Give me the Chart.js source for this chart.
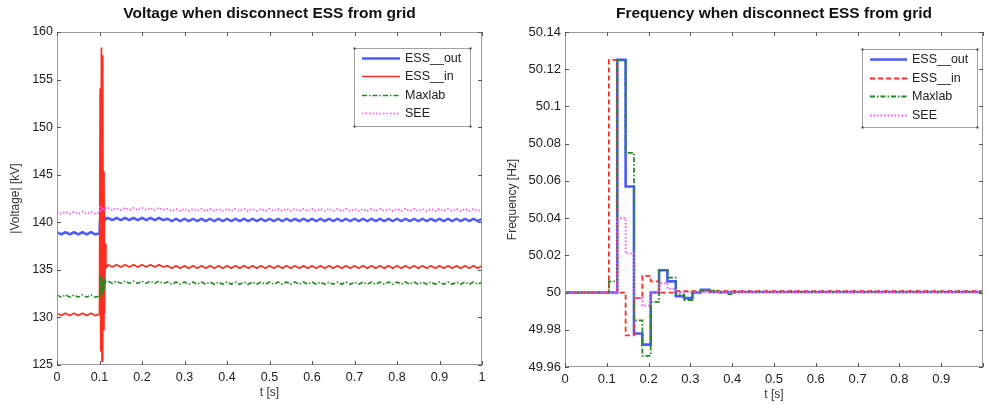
<!DOCTYPE html>
<html>
<head>
<meta charset="utf-8">
<title>Disconnect ESS from grid</title>
<script src="https://cdn.jsdelivr.net/npm/chart.js@4.4.1/dist/chart.umd.min.js"></script>
<style>
  html, body { margin: 0; padding: 0; background: #fff; }
  #wrap { position: relative; width: 988px; height: 405px; overflow: hidden; }
  canvas { position: absolute; top: 0; }
  #voltChart { left: 0; }
  #freqChart { left: 494px; }
</style>
</head>
<body>
<div id="wrap">
  <canvas id="voltChart" width="494" height="405"></canvas>
  <canvas id="freqChart" width="494" height="405"></canvas>
</div>
<script>
'use strict';

// ---- Voltage plot: sample times [s] ----
const voltPreT = [0, 0.01, 0.02, 0.03, 0.04, 0.05, 0.06, 0.07, 0.08, 0.09];
const voltTransT = [0.1, 0.1015, 0.103, 0.1045, 0.106, 0.1075, 0.109, 0.1105, 0.112, 0.1135, 0.115];
const voltPostT = [
  0.12, 0.13, 0.14, 0.15, 0.16, 0.17, 0.18, 0.19, 0.2,
  0.21, 0.22, 0.23, 0.24, 0.25, 0.26, 0.27, 0.28, 0.29, 0.3,
  0.31, 0.32, 0.33, 0.34, 0.35, 0.36, 0.37, 0.38, 0.39, 0.4,
  0.41, 0.42, 0.43, 0.44, 0.45, 0.46, 0.47, 0.48, 0.49, 0.5,
  0.51, 0.52, 0.53, 0.54, 0.55, 0.56, 0.57, 0.58, 0.59, 0.6,
  0.61, 0.62, 0.63, 0.64, 0.65, 0.66, 0.67, 0.68, 0.69, 0.7,
  0.71, 0.72, 0.73, 0.74, 0.75, 0.76, 0.77, 0.78, 0.79, 0.8,
  0.81, 0.82, 0.83, 0.84, 0.85, 0.86, 0.87, 0.88, 0.89, 0.9,
  0.91, 0.92, 0.93, 0.94, 0.95, 0.96, 0.97, 0.98, 0.99, 1
];

// ---- Voltage plot: |V| [kV] per series ----
const essOutVPre = [138.96, 138.72, 138.96, 138.72, 138.96, 138.72, 138.96, 138.72, 138.96, 138.72];
const essOutVTrans = [138.84, 140.5, 140.3, 140.52, 140.28, 140.5, 140.3, 140.48, 140.3, 140.45, 140.3];
const essOutVPost = [
  140.47, 140.23, 140.47, 140.23, 140.47, 140.23, 140.47, 140.23, 140.47,
  140.23, 140.47, 140.23, 140.47, 140.23, 140.37, 140.13, 140.37, 140.13, 140.37,
  140.13, 140.37, 140.13, 140.37, 140.13, 140.37, 140.13, 140.37, 140.13, 140.37,
  140.13, 140.37, 140.13, 140.37, 140.13, 140.37, 140.13, 140.37, 140.13, 140.37,
  140.13, 140.37, 140.13, 140.37, 140.13, 140.37, 140.13, 140.37, 140.13, 140.37,
  140.13, 140.37, 140.13, 140.37, 140.13, 140.37, 140.13, 140.37, 140.13, 140.37,
  140.13, 140.37, 140.13, 140.37, 140.13, 140.37, 140.13, 140.37, 140.13, 140.37,
  140.13, 140.37, 140.13, 140.37, 140.13, 140.37, 140.13, 140.37, 140.13, 140.37,
  140.13, 140.37, 140.13, 140.37, 140.13, 140.37, 140.13, 140.37, 140.13, 140.37
];

const essInVPre = [130.45, 130.21, 130.45, 130.21, 130.45, 130.21, 130.45, 130.21, 130.45, 130.21];
const essInVTrans = [130.33, 154.0, 126.5, 158.3, 125.4, 157.5, 128.7, 145.3, 130.5, 137.7, 135.2];
const essInVPost = [
  135.54, 135.3, 135.54, 135.3, 135.54, 135.3, 135.54, 135.3, 135.54,
  135.3, 135.54, 135.3, 135.54, 135.3, 135.42, 135.18, 135.42, 135.18, 135.42,
  135.18, 135.42, 135.18, 135.42, 135.18, 135.42, 135.18, 135.42, 135.18, 135.42,
  135.18, 135.42, 135.18, 135.42, 135.18, 135.42, 135.18, 135.42, 135.18, 135.42,
  135.18, 135.42, 135.18, 135.42, 135.18, 135.42, 135.18, 135.42, 135.18, 135.42,
  135.18, 135.42, 135.18, 135.42, 135.18, 135.42, 135.18, 135.42, 135.18, 135.42,
  135.18, 135.42, 135.18, 135.42, 135.18, 135.42, 135.18, 135.42, 135.18, 135.42,
  135.18, 135.42, 135.18, 135.42, 135.18, 135.42, 135.18, 135.42, 135.18, 135.42,
  135.18, 135.42, 135.18, 135.42, 135.18, 135.42, 135.18, 135.42, 135.18, 135.42
];

const maxlabVPre = [132.37, 132.13, 132.37, 132.13, 132.37, 132.13, 132.37, 132.13, 132.37, 132.13];
const maxlabVTrans = [132.25, 133.2, 134.4, 131.9, 134.1, 132.6, 133.9, 133.0, 134.0, 133.5, 133.8];
const maxlabVPost = [
  133.82, 133.58, 133.82, 133.58, 133.82, 133.58, 133.82, 133.58, 133.82,
  133.58, 133.82, 133.58, 133.82, 133.58, 133.72, 133.48, 133.72, 133.48, 133.72,
  133.48, 133.72, 133.48, 133.72, 133.48, 133.72, 133.48, 133.72, 133.48, 133.72,
  133.48, 133.72, 133.48, 133.72, 133.48, 133.72, 133.48, 133.72, 133.48, 133.72,
  133.48, 133.72, 133.48, 133.72, 133.48, 133.72, 133.48, 133.72, 133.48, 133.72,
  133.48, 133.72, 133.48, 133.72, 133.48, 133.72, 133.48, 133.72, 133.48, 133.72,
  133.48, 133.72, 133.48, 133.72, 133.48, 133.72, 133.48, 133.72, 133.48, 133.72,
  133.48, 133.72, 133.48, 133.72, 133.48, 133.72, 133.48, 133.72, 133.48, 133.72,
  133.48, 133.72, 133.48, 133.72, 133.48, 133.72, 133.48, 133.72, 133.48, 133.72
];

const seeVPre = [141.12, 140.88, 141.12, 140.88, 141.12, 140.88, 141.12, 140.88, 141.12, 140.88];
const seeVTrans = [141.0, 141.75, 141.2, 141.6, 141.3, 141.55, 141.35, 141.5, 141.3, 141.5, 141.4];
const seeVPost = [
  141.52, 141.28, 141.52, 141.28, 141.52, 141.28, 141.52, 141.28, 141.52,
  141.28, 141.52, 141.28, 141.52, 141.28, 141.42, 141.18, 141.42, 141.18, 141.42,
  141.18, 141.42, 141.18, 141.42, 141.18, 141.42, 141.18, 141.42, 141.18, 141.42,
  141.18, 141.42, 141.18, 141.42, 141.18, 141.42, 141.18, 141.42, 141.18, 141.42,
  141.18, 141.42, 141.18, 141.42, 141.18, 141.42, 141.18, 141.42, 141.18, 141.42,
  141.18, 141.42, 141.18, 141.42, 141.18, 141.42, 141.18, 141.42, 141.18, 141.42,
  141.18, 141.42, 141.18, 141.42, 141.18, 141.42, 141.18, 141.42, 141.18, 141.42,
  141.18, 141.42, 141.18, 141.42, 141.18, 141.42, 141.18, 141.42, 141.18, 141.42,
  141.18, 141.42, 141.18, 141.42, 141.18, 141.42, 141.18, 141.42, 141.18, 141.42
];

// ---- Frequency plot: step times [s] and held values [Hz] ----
const essOutFT = [0, 0.125, 0.145, 0.165, 0.185, 0.205, 0.225, 0.245, 0.265, 0.285, 0.305, 0.325, 0.345, 1];
const essOutF = [50, 50.125, 50.057, 49.978, 49.972, 50, 50.012, 50.006, 49.998, 49.997, 50, 50.0015, 50.0003, 50.0003];

const essInFT = [0, 0.105, 0.125, 0.145, 0.165, 0.185, 0.205, 0.225, 0.265, 1];
const essInF = [50, 50.125, 50, 49.977, 49.997, 50.009, 50.006, 50, 50.0007, 50.0007];

const maxlabFT = [0, 0.105, 0.125, 0.145, 0.165, 0.185, 0.205, 0.225, 0.245, 0.265, 0.285, 0.305, 0.325, 0.365, 0.385, 0.405, 1];
const maxlabF = [50, 50.006, 50.125, 50.075, 49.985, 49.966, 49.995, 50.012, 50.008, 49.999, 49.996, 50, 50.001, 50, 49.9992, 50.0003, 50.0003];

const seeFT = [0, 0.125, 0.145, 0.165, 0.185, 0.205, 0.225, 0.245, 0.265, 1];
const seeF = [50, 50.04, 50.021, 49.997, 49.993, 50, 50.005, 50.002, 50.0003, 50.0003];

// ---- Labels and axis ticks ----
const seriesLabels = ['ESS__out', 'ESS__in', 'Maxlab', 'SEE'];
const voltYTicks = { min: 125, max: 160, step: 5 };
const freqYTicks = { min: 49.96, max: 50.14, step: 0.02 };
const timeTicks = { min: 0, max: 1, step: 0.1 };

const FONT = '"Liberation Sans", Arial, Helvetica, sans-serif';
const TEXT = '#222';
const COLORS = { blue: '#4b5bff', red: '#ff2d20', green: '#218a21', magenta: '#ff4cff' };

Chart.defaults.font.family = FONT;
Chart.defaults.color = TEXT;

/**
 * Pair a time array with a value array
 */
function toPoints(times, values) {
    return times.map((t, i) => ({ x: t, y: values[i] }));
}

/**
 * Frame, inward ticks, title and legend, drawn the MATLAB way
 */
const axesBox = {
    id: 'axesBox',
    afterDatasetsDraw(chart, args, opts) {
        const { ctx, chartArea: a } = chart;
        const xs = chart.scales.x;
        const ys = chart.scales.y;
        ctx.save();

        // plot frame
        ctx.lineWidth = 1;
        ctx.strokeStyle = '#9b9b9b';
        ctx.strokeRect(a.left + 0.5, a.top + 0.5, a.width - 1, a.height - 1);

        // tick marks pointing inwards on all four sides
        ctx.strokeStyle = '#555';
        ctx.beginPath();
        xs.ticks.forEach((t, i) => {
            const px = Math.round(xs.getPixelForTick(i)) + 0.5;
            ctx.moveTo(px, a.bottom); ctx.lineTo(px, a.bottom - 4);
            ctx.moveTo(px, a.top); ctx.lineTo(px, a.top + 4);
        });
        ys.ticks.forEach((t, i) => {
            const py = Math.round(ys.getPixelForTick(i)) + 0.5;
            ctx.moveTo(a.left, py); ctx.lineTo(a.left + 4, py);
            ctx.moveTo(a.right, py); ctx.lineTo(a.right - 4, py);
        });
        ctx.stroke();

        // title
        ctx.fillStyle = '#111';
        ctx.font = 'bold 15.5px ' + FONT;
        ctx.textAlign = 'center';
        ctx.textBaseline = 'middle';
        ctx.fillText(opts.title, (a.left + a.right) / 2, 14);

        // legend
        const L = opts.legend;
        ctx.fillStyle = '#fff';
        ctx.fillRect(L.x, L.y, L.w, L.h);
        ctx.strokeStyle = '#a0a0a0';
        ctx.strokeRect(L.x + 0.5, L.y + 0.5, L.w, L.h);
        ctx.fillStyle = '#444';
        [[L.x, L.y], [L.x + L.w, L.y], [L.x + L.w, L.y + L.h], [L.x, L.y + L.h]].forEach(([cx, cy]) => {
            ctx.fillRect(cx - 0.5, cy - 0.5, 2, 2);
        });
        ctx.font = '12.5px ' + FONT;
        ctx.textAlign = 'left';
        chart.data.datasets.forEach((ds, i) => {
            const y = Math.round(L.y + L.first + i * L.row) + 0.5;
            ctx.save();
            ctx.strokeStyle = ds.borderColor;
            ctx.lineWidth = ds.borderWidth;
            ctx.setLineDash(ds.borderDash || []);
            ctx.beginPath();
            ctx.moveTo(L.x + L.line0, y);
            ctx.lineTo(L.x + L.line1, y);
            ctx.stroke();
            ctx.restore();
            ctx.fillStyle = TEXT;
            ctx.fillText(ds.label, L.x + L.text, y + 0.5);
        });
        ctx.restore();
    }
};

/**
 * Shared option builder for both panels
 */
function buildOptions(cfg) {
    return {
        responsive: false,
        animation: false,
        events: [],
        layout: { padding: { top: 32, right: cfg.padRight, left: 0, bottom: 0 } },
        elements: { point: { radius: 0 } },
        plugins: {
            legend: { display: false },
            tooltip: { enabled: false },
            axesBox: { title: cfg.title, legend: cfg.legend }
        },
        scales: {
            x: {
                type: 'linear',
                min: timeTicks.min,
                max: timeTicks.max,
                grid: { display: false, drawTicks: false },
                border: { display: false },
                ticks: {
                    stepSize: timeTicks.step,
                    autoSkip: false,
                    maxRotation: 0,
                    padding: 5,
                    font: { size: cfg.tickSize },
                    color: TEXT,
                    callback: v => (cfg.hideLastX && Math.abs(v - 1) < 1e-9) ? '' : String(+v.toFixed(1))
                },
                title: { display: true, text: 't [s]', font: { size: 12 }, color: '#333', padding: { top: 0, bottom: cfg.xTitlePad } },
                afterFit: s => { s.height = cfg.xHeight; }
            },
            y: {
                type: 'linear',
                min: cfg.yTicks.min,
                max: cfg.yTicks.max,
                grid: { display: false, drawTicks: false },
                border: { display: false },
                ticks: {
                    stepSize: cfg.yTicks.step,
                    padding: 4,
                    font: { size: cfg.tickSize },
                    color: TEXT,
                    callback: v => String(+v.toFixed(2))
                },
                title: { display: true, text: cfg.yTitle, font: { size: 12 }, color: '#333', padding: { top: cfg.yTitlePad, bottom: 0 } },
                afterFit: s => { s.width = cfg.yWidth; }
            }
        }
    };
}

// ---- Voltage panel ----
new Chart(document.getElementById('voltChart'), {
    type: 'line',
    data: {
        datasets: [
            {
                label: seriesLabels[0],
                data: toPoints(voltPreT.concat(voltTransT, voltPostT), essOutVPre.concat(essOutVTrans, essOutVPost)),
                borderColor: COLORS.blue, borderWidth: 2.5, borderJoinStyle: 'round', order: 3
            },
            {
                label: seriesLabels[1],
                data: toPoints(voltPreT.concat(voltTransT, voltPostT), essInVPre.concat(essInVTrans, essInVPost)),
                borderColor: COLORS.red, borderWidth: 1.7, borderJoinStyle: 'round', order: 2
            },
            {
                label: seriesLabels[2],
                data: toPoints(voltPreT.concat(voltTransT, voltPostT), maxlabVPre.concat(maxlabVTrans, maxlabVPost)),
                borderColor: COLORS.green, borderWidth: 1.6, borderDash: [5, 2, 1.5, 2], borderJoinStyle: 'round', order: 1
            },
            {
                label: seriesLabels[3],
                data: toPoints(voltPreT.concat(voltTransT, voltPostT), seeVPre.concat(seeVTrans, seeVPost)),
                borderColor: COLORS.magenta, borderWidth: 1.6, borderDash: [1.5, 2], borderJoinStyle: 'round', order: 0
            }
        ]
    },
    options: buildOptions({
        title: 'Voltage when disconnect ESS from grid',
        yTitle: '|Voltage| [kV]',
        yTicks: voltYTicks,
        padRight: 12,
        yWidth: 57,
        xHeight: 40,
        tickSize: 12.5,
        yTitlePad: 8,
        xTitlePad: 5,
        hideLastX: false,
        legend: { x: 354, y: 48, w: 116, h: 78, first: 10, row: 18.3, line0: 8, line1: 46, text: 51 }
    }),
    plugins: [axesBox]
});

// ---- Frequency panel ----
new Chart(document.getElementById('freqChart'), {
    type: 'line',
    data: {
        datasets: [
            {
                label: seriesLabels[0],
                data: toPoints(essOutFT, essOutF),
                borderColor: COLORS.blue, borderWidth: 2.6, stepped: true, order: 3
            },
            {
                label: seriesLabels[1],
                data: toPoints(essInFT, essInF),
                borderColor: COLORS.red, borderWidth: 1.8, borderDash: [5, 3], stepped: true, order: 2
            },
            {
                label: seriesLabels[2],
                data: toPoints(maxlabFT, maxlabF),
                borderColor: COLORS.green, borderWidth: 1.8, borderDash: [5, 2, 1.5, 2], stepped: true, order: 1
            },
            {
                label: seriesLabels[3],
                data: toPoints(seeFT, seeF),
                borderColor: COLORS.magenta, borderWidth: 1.8, borderDash: [1.5, 2], stepped: true, order: 0
            }
        ]
    },
    options: buildOptions({
        title: 'Frequency when disconnect ESS from grid',
        yTitle: 'Frequency [Hz]',
        yTicks: freqYTicks,
        padRight: 0,
        yWidth: 71,
        xHeight: 38,
        tickSize: 13,
        yTitlePad: 11,
        xTitlePad: 3,
        hideLastX: true,
        legend: { x: 368, y: 49, w: 115, h: 78, first: 10, row: 18.7, line0: 8, line1: 45, text: 50 }
    }),
    plugins: [axesBox]
});
</script>
</body>
</html>
